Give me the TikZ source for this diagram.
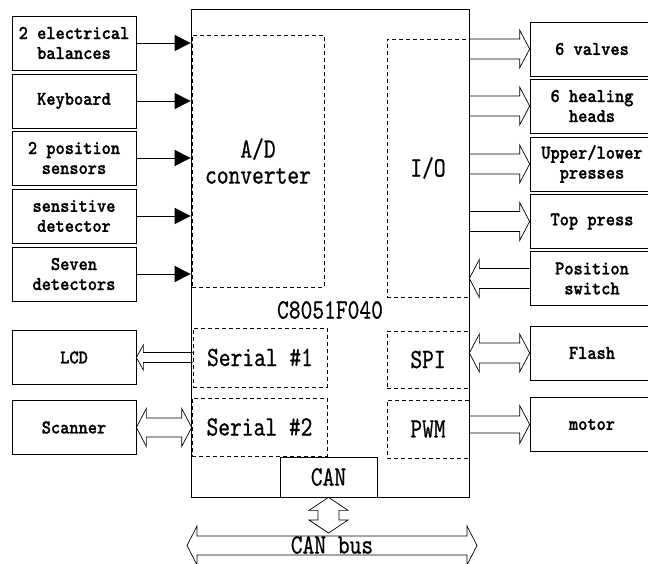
\documentclass[tikz,border=0pt]{standalone}
\usepackage{fontspec}
\newfontfamily\smallfont[FakeStretch=0.9,FakeBold=1.2]{lmmonolt10-bold.otf}
\newfontfamily\bigfont[FakeStretch=0.8,FakeBold=0.6]{lmmono10-regular.otf}
\usetikzlibrary{arrows.meta}
% hollow arrow sizes: shaft half width, head half width, head length
\def\sw{10pt}\def\hw{19pt}\def\hl{10pt}
% #1 tail, #2 tip, #3 = 1 (to the right) or -1 (to the left)
\newcommand{\fatarrow}[3]{\draw[fat] ([yshift=\sw]#1) -- ([xshift={-(#3)*\hl},yshift=\sw]#2) -- ([xshift={-(#3)*\hl},yshift=\hw]#2) -- (#2) -- ([xshift={-(#3)*\hl},yshift=-\hw]#2) -- ([xshift={-(#3)*\hl},yshift=-\sw]#2) -- ([yshift=-\sw]#1);}
% #1 left tip, #2 right tip
\newcommand{\fatboth}[2]{\draw[fat] (#1) -- ([xshift=\hl,yshift=\hw]#1) -- ([xshift=\hl,yshift=\sw]#1) -- ([xshift=-\hl,yshift=\sw]#2) -- ([xshift=-\hl,yshift=\hw]#2) -- (#2) -- ([xshift=-\hl,yshift=-\hw]#2) -- ([xshift=-\hl,yshift=-\sw]#2) -- ([xshift=\hl,yshift=-\sw]#1) -- ([xshift=\hl,yshift=-\hw]#1) -- cycle;}
% #1 upper tip, #2 lower tip
\newcommand{\fatvboth}[2]{\draw[fat] (#1) -- ([xshift=\hw,yshift=-\hl]#1) -- ([xshift=\sw,yshift=-\hl]#1) -- ([xshift=\sw,yshift=\hl]#2) -- ([xshift=\hw,yshift=\hl]#2) -- (#2) -- ([xshift=-\hw,yshift=\hl]#2) -- ([xshift=-\sw,yshift=\hl]#2) -- ([xshift=-\sw,yshift=-\hl]#1) -- ([xshift=-\hw,yshift=-\hl]#1) -- cycle;}
\begin{document}
\begin{tikzpicture}[x=1pt,y=-1pt,line width=0.7pt]
\tikzstyle{dev}=[draw,minimum width=124pt,minimum height=54pt,inner sep=0pt,align=center,font=\smallfont\fontsize{19.5}{20}\selectfont]
\tikzstyle{big}=[inner sep=0pt,align=center,font=\bigfont\fontsize{28}{26}\selectfont]
\tikzstyle{part}=[big,draw,dash pattern=on 4pt off 3pt,line width=0.6pt]
\tikzstyle{fat}=[line width=0.7pt,line join=miter]
\useasboundingbox (0,0) rectangle (648,564);
\draw
node[draw,minimum width=278pt,minimum height=488pt](chip)at(330,253){}
node[part,minimum width=132pt,minimum height=252pt](ad)at(258,161){A/D\\converter}
node[part,minimum width=82pt,minimum height=258pt](io)at(428,168){I/O}
node[big](name)at(330,310){C8051F040}
node[part,minimum width=134pt,minimum height=59pt](ser1)at(260,357.5){Serial \#1}
node[part,minimum width=135pt,minimum height=58pt](ser2)at(259.5,427){Serial \#2}
node[part,minimum width=82pt,minimum height=57pt](spi)at(428,359.5){SPI}
node[part,minimum width=82pt,minimum height=58pt](pwm)at(428,429){PWM}
node[big,draw,minimum width=97pt,minimum height=40pt](can)at(328.5,477){CAN}
node[big](bus)at(332,545){CAN bus};

\draw
node[dev](bal)at(74,43){2 electrical\\balances}
node[dev](key)at(74,101){Keyboard}
node[dev](pos)at(74,158){2 position\\sensors}
node[dev](det)at(74,216){sensitive\\detector}
node[dev](seven)at(74,274){Seven\\detectors}
node[dev](lcd)at(74,357.5){LCD}
node[dev](scan)at(74,427.5){Scanner};

\draw
node[dev](valves)at(592,49){6 valves}
node[dev](heads)at(592,106){6 healing\\heads}
node[dev](press)at(592,164){Upper/lower\\presses}
node[dev](top)at(592,221.5){Top press}
node[dev](switch)at(592,278.5){Position\\switch}
node[dev](flash)at(592,353){Flash}
node[dev](motor)at(592,424.5){motor};

\coordinate(busL)at(187,545.5);
\coordinate(busR)at(477,545.5);
\coordinate(tap)at(328.5,533);

\draw[-{Triangle[length=16pt,width=16pt]}](bal.east)--(bal.east -| chip.west);
\draw[-{Triangle[length=16pt,width=16pt]}](key.east)--(key.east -| chip.west);
\draw[-{Triangle[length=16pt,width=16pt]}](pos.east)--(pos.east -| chip.west);
\draw[-{Triangle[length=16pt,width=16pt]}](det.east)--(det.east -| chip.west);
\draw[-{Triangle[length=16pt,width=16pt]}](seven.east)--(seven.east -| chip.west);

\fatarrow{valves.west -| chip.east}{valves.west}{1}
\fatarrow{heads.west -| chip.east}{heads.west}{1}
\fatarrow{press.west -| chip.east}{press.west}{1}
\fatarrow{top.west -| chip.east}{top.west}{1}
\fatarrow{switch.west}{switch.west -| chip.east}{-1}
\fatboth{flash.west -| chip.east}{flash.west}
\begin{scope}
\def\sw{8.5pt}
\fatarrow{motor.west -| chip.east}{motor.west}{1}
\end{scope}
\begin{scope}
\def\sw{5pt}\def\hw{12.5pt}\def\hl{7pt}
\fatarrow{ser1.west}{ser1.west -| lcd.east}{-1}
\end{scope}
\begin{scope}
\def\sw{9.5pt}
\fatboth{scan.east}{scan.east -| ser2.west}
\end{scope}
\begin{scope}
\def\sw{10.5pt}\def\hw{19.5pt}\def\hl{13pt}
\fatvboth{can.south}{tap}
\end{scope}
\begin{scope}
\def\sw{9.5pt}\def\hw{19.5pt}
\fatboth{busL}{busR}
\end{scope}
\end{tikzpicture}
\end{document}
